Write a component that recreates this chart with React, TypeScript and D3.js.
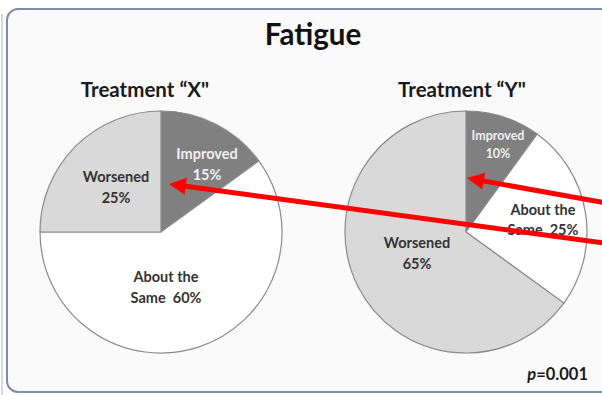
import React from "react";
import * as d3 from "d3";

const categories = ["Improved", "About the Same", "Worsened"];
const treatmentX = [15, 60, 25];
const treatmentY = [10, 25, 65];
const chartTitle = "Fatigue";
const pieTitles = ["Treatment \u201CX\"", "Treatment \u201CY\""];
const pValue = "=0.001";

const W = 602;
const H = 395;
const FONT = "Lato, 'Open Sans', sans-serif";
const colors: Record<string, string> = {
  "Improved": "#808080",
  "About the Same": "#ffffff",
  "Worsened": "#d9d9d9",
};
const labelColors: Record<string, string> = {
  "Improved": "#f0f0f0",
  "About the Same": "#333333",
  "Worsened": "#333333",
};

type PieSpec = {
  values: number[];
  cx: number;
  cy: number;
  r: number;
  title: string;
  titleX: number;
  labelOff: [number, number][];
  labelLines: string[][];
  labelSize: number[];
  lineGap: number[];
};

const pies: PieSpec[] = [
  {
    values: treatmentX,
    cx: 161,
    cy: 232,
    r: 121,
    title: pieTitles[0],
    titleX: 145,
    labelOff: [[46, -68], [5, 55], [-45, -45]],
    labelLines: [["Improved", "15%"], ["About the", "Same  60%"], ["Worsened", "25%"]],
    labelSize: [14.5, 14.5, 14.5],
    lineGap: [21, 21, 21],
  },
  {
    values: treatmentY,
    cx: 466,
    cy: 232,
    r: 121,
    title: pieTitles[1],
    titleX: 462,
    labelOff: [[32, -88], [77, -12], [-49, 21]],
    labelLines: [["Improved", "10%"], ["About the", "Same  25%"], ["Worsened", "65%"]],
    labelSize: [12.5, 14.5, 14.5],
    lineGap: [18, 20, 21],
  },
];

type Arrow = { x1: number; y1: number; x2: number; y2: number };
const arrows: Arrow[] = [
  { x1: 640, y1: 248, x2: 169, y2: 184 },
  { x1: 640, y1: 209, x2: 467, y2: 178 },
];

function ArrowMark({ a }: { a: Arrow }) {
  const ang = Math.atan2(a.y2 - a.y1, a.x2 - a.x1);
  const len = 17;
  const hw = 8.5;
  const bx = a.x2 - len * Math.cos(ang);
  const by = a.y2 - len * Math.sin(ang);
  const px = -Math.sin(ang) * hw;
  const py = Math.cos(ang) * hw;
  const pts = `${a.x2},${a.y2} ${bx + px},${by + py} ${bx - px},${by - py}`;
  return (
    <g>
      <line x1={a.x1} y1={a.y1} x2={bx + 2 * Math.cos(ang)} y2={by + 2 * Math.sin(ang)} stroke="#ff0000" strokeWidth={5} />
      <polygon points={pts} fill="#ff0000" />
    </g>
  );
}

function Pie({ spec }: { spec: PieSpec }) {
  const data = categories.map((c, i) => ({ cat: c, value: spec.values[i] }));
  const pie = d3.pie<{ cat: string; value: number }>().sort(null).value((d) => d.value);
  const arcs = pie(data);
  const arc = d3.arc<d3.PieArcDatum<{ cat: string; value: number }>>().innerRadius(0).outerRadius(spec.r);
  return (
    <g>
      <text x={spec.titleX} y={97} textAnchor="middle" fontFamily={FONT} fontWeight={700} fontSize={20.5} fill="#1a1a1a">
        {spec.title}
      </text>
      <g transform={`translate(${spec.cx},${spec.cy})`}>
        {arcs.map((a, i) => (
          <path key={i} d={arc(a) || ""} fill={colors[a.data.cat]} stroke="#8a8a8a" strokeWidth={1.2} />
        ))}
        {arcs.map((a, i) => {
          const [dx, dy] = spec.labelOff[i];
          const lines = spec.labelLines[i];
          const gap = spec.lineGap[i];
          return (
            <text key={"l" + i} textAnchor="middle" fontFamily={FONT} fontWeight={700} fontSize={spec.labelSize[i]} fill={labelColors[a.data.cat]}>
              {lines.map((ln, j) => (
                <tspan key={j} x={dx} y={dy - gap / 2 + j * gap + 5} style={{ whiteSpace: "pre" }}>
                  {ln}
                </tspan>
              ))}
            </text>
          );
        })}
      </g>
    </g>
  );
}

export default function App() {
  return (
    <svg width={W} height={H} style={{ position: "absolute", left: 0, top: 0, background: "#ffffff" }}>
      <line x1={2} y1={14} x2={2} y2={H} stroke="#c8ccd2" strokeWidth={1.5} />
      <rect x={7} y={9} width={W + 20} height={H - 12} rx={11} ry={11} fill="#fafafa" stroke="#7b8fa8" strokeWidth={2} />
      <text x={313} y={45} textAnchor="middle" fontFamily={FONT} fontWeight={700} fontSize={29.5} fill="#111111">
        {chartTitle}
      </text>
      {pies.map((p, i) => (
        <Pie key={i} spec={p} />
      ))}
      <text x={588} y={380} textAnchor="end" fontFamily={FONT} fontWeight={700} fontSize={16.5} fill="#1a1a1a">
        <tspan fontStyle="italic">p</tspan>
        <tspan>{pValue}</tspan>
      </text>
      {arrows.map((a, i) => (
        <ArrowMark key={i} a={a} />
      ))}
    </svg>
  );
}
